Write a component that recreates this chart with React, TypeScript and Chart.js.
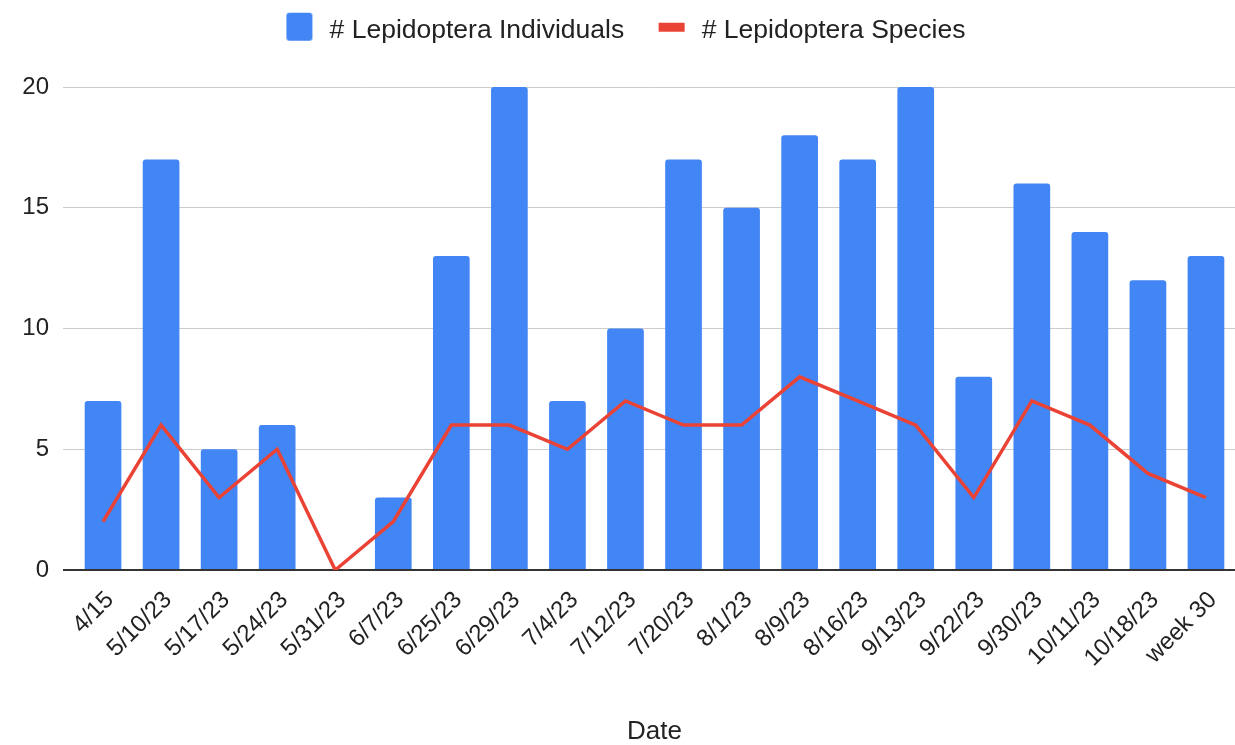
import React, { useEffect, useRef } from 'react';
import { Chart, registerables } from 'chart.js';

Chart.register(...registerables);

const categories = [
  '4/15', '5/10/23', '5/17/23', '5/24/23', '5/31/23', '6/7/23', '6/25/23', '6/29/23',
  '7/4/23', '7/12/23', '7/20/23', '8/1/23', '8/9/23', '8/16/23', '9/13/23', '9/22/23',
  '9/30/23', '10/11/23', '10/18/23', 'week 30',
];
const individuals = [7, 17, 5, 6, 0, 3, 13, 20, 7, 10, 17, 15, 18, 17, 20, 8, 16, 14, 12, 13];
const species = [2, 6, 3, 5, 0, 2, 6, 6, 5, 7, 6, 6, 8, 7, 6, 3, 7, 6, 4, 3];
const yTicks = [0, 5, 10, 15, 20];

const BLUE = '#4285F4';
const RED = '#EA4335';
const TEXT = '#222222';
const FONT = "'Liberation Sans', Arial, sans-serif";

function makeMarker(kind: 'box' | 'line', color: string): HTMLCanvasElement {
  const c = document.createElement('canvas');
  c.width = 47;
  c.height = 40;
  const ctx = c.getContext('2d')!;
  ctx.fillStyle = color;
  if (kind === 'box') {
    const x = 17, y = 2, w = 26, h = 28, r = 3;
    ctx.beginPath();
    ctx.moveTo(x + r, y);
    ctx.lineTo(x + w - r, y);
    ctx.quadraticCurveTo(x + w, y, x + w, y + r);
    ctx.lineTo(x + w, y + h - r);
    ctx.quadraticCurveTo(x + w, y + h, x + w - r, y + h);
    ctx.lineTo(x + r, y + h);
    ctx.quadraticCurveTo(x, y + h, x, y + h - r);
    ctx.lineTo(x, y + r);
    ctx.quadraticCurveTo(x, y, x + r, y);
    ctx.fill();
  } else {
    ctx.fillRect(17, 12, 26, 9);
  }
  return c;
}

export default function App() {
  const ref = useRef<HTMLCanvasElement | null>(null);

  useEffect(() => {
    if (!ref.current) return;
    const blueMarker = makeMarker('box', BLUE);
    const redMarker = makeMarker('line', RED);

    const chart = new Chart(ref.current, {
      type: 'bar',
      data: {
        labels: categories,
        datasets: [
          {
            type: 'bar',
            label: '# Lepidoptera Individuals',
            data: individuals,
            backgroundColor: BLUE,
            borderWidth: 0,
            borderRadius: { topLeft: 3, topRight: 3, bottomLeft: 0, bottomRight: 0 },
            borderSkipped: 'start',
            barPercentage: 0.632,
            categoryPercentage: 1,
            order: 2,
          },
          {
            type: 'line',
            label: '# Lepidoptera Species',
            data: species,
            borderColor: RED,
            backgroundColor: RED,
            borderWidth: 3.5,
            pointRadius: 0,
            pointHoverRadius: 0,
            tension: 0,
            fill: false,
            order: 1,
          },
        ] as any,
      },
      options: {
        responsive: false,
        animation: false,
        devicePixelRatio: 1,
        layout: { padding: 0, autoPadding: false } as any,
        plugins: {
          tooltip: { enabled: false },
          title: {
            display: true,
            text: '',
            font: { size: 10, lineHeight: 1 },
            padding: { top: 0, bottom: 23 },
            weight: 500,
          } as any,
          legend: {
            display: true,
            position: 'top',
            labels: {
              usePointStyle: true,
              pointStyleWidth: 46.75,
              padding: 17.5,
              color: TEXT,
              font: { family: FONT, size: 26.5 },
              generateLabels: (c: any) => {
                const items = (Chart.defaults.plugins.legend.labels as any).generateLabels(c);
                items.forEach((it: any) => {
                  it.pointStyle = it.datasetIndex === 0 ? blueMarker : redMarker;
                  it.fontColor = TEXT;
                });
                return items;
              },
              sort: (a: any, b: any) => a.datasetIndex - b.datasetIndex,
            } as any,
          },
        },
        scales: {
          x: {
            type: 'category',
            offset: true,
            grid: { display: false },
            border: { display: false },
            ticks: {
              color: TEXT,
              font: { family: FONT, size: 24 },
              minRotation: 45,
              maxRotation: 45,
              autoSkip: false,
              padding: 8,
              labelOffset: 7,
            },
            title: {
              display: true,
              text: 'Date',
              color: TEXT,
              font: { family: FONT, size: 26, lineHeight: 1 },
              padding: { top: 0, bottom: 0 },
            },
            afterFit: (scale: any) => {
              scale.height = 175;
            },
          },
          y: {
            type: 'linear',
            min: 0,
            max: 20,
            afterBuildTicks: (scale: any) => {
              scale.ticks = yTicks.map((v) => ({ value: v }));
            },
            grid: {
              drawTicks: true,
              tickLength: 11,
              color: (ctx: any) => (ctx.tick && ctx.tick.value === 0 ? '#333333' : '#cccccc'),
              tickColor: (ctx: any) => (ctx.tick && ctx.tick.value === 0 ? '#333333' : '#cccccc'),
              lineWidth: (ctx: any) => (ctx.tick && ctx.tick.value === 0 ? 2 : 1),
            },
            border: { display: false },
            ticks: {
              color: TEXT,
              font: { family: FONT, size: 24 },
              padding: 14,
            },
            afterFit: (scale: any) => {
              scale.width = 74;
            },
          },
        },
      } as any,
    });
    return () => chart.destroy();
  }, []);

  return (
    <div style={{ position: 'absolute', left: 0, top: 0, width: 1235, height: 745, background: '#fff' }}>
      <canvas ref={ref} width={1235} height={745} style={{ display: 'block' }} />
    </div>
  );
}
